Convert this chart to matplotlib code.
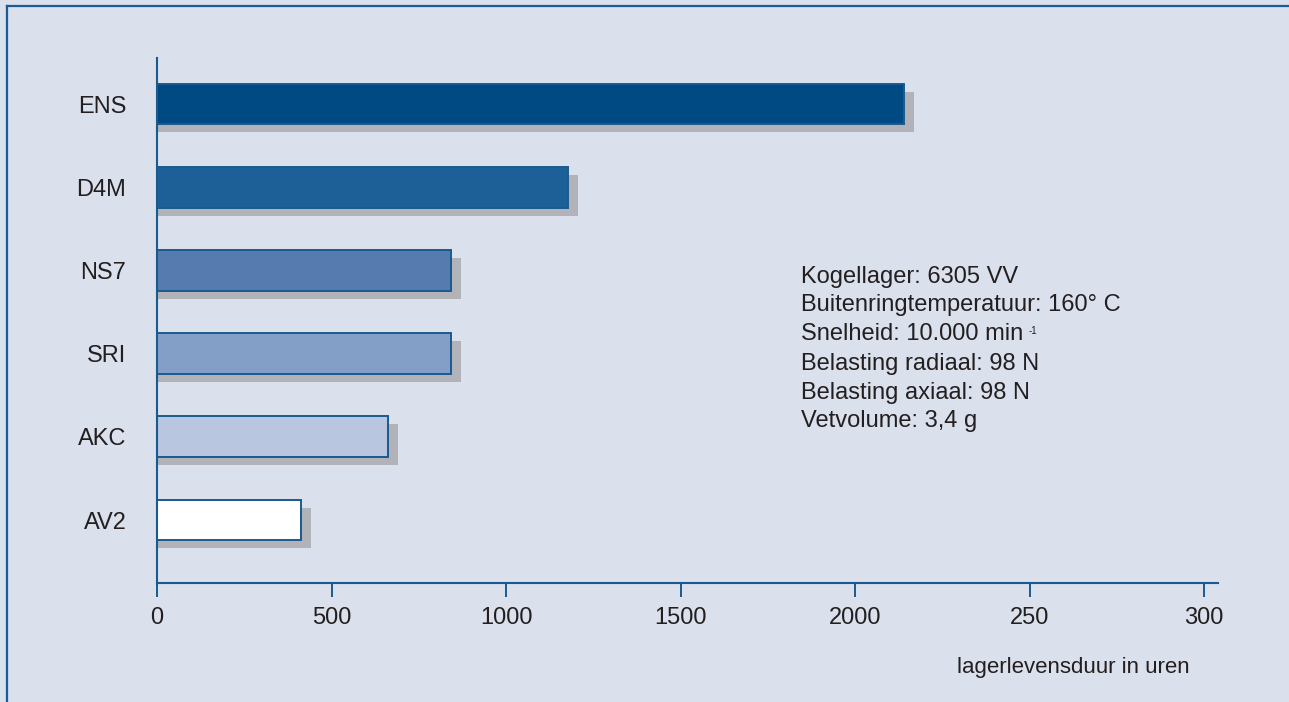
import matplotlib.pyplot as plt
from matplotlib.lines import Line2D

plt.rcParams['font.family'] = ['Liberation Sans', 'DejaVu Sans']

# lubricants, bottom to top
labels = ['AV2', 'AKC', 'SRI', 'NS7', 'D4M', 'ENS']
hours = [412, 661, 842, 842, 1177, 2141]
colors = ['#ffffff', '#b9c6df', '#849fc7', '#567baf', '#1c6097', '#004a84']

tick_pos = [0, 500, 1000, 1500, 2000, 2500, 3000]
tick_labels = ['0', '500', '1000', '1500', '2000', '250', '300']

info = ['Kogellager: 6305 VV',
        'Buitenringtemperatuur: 160° C',
        'Snelheid: 10.000 min',
        'Belasting radiaal: 98 N',
        'Belasting axiaal: 98 N',
        'Vetvolume: 3,4 g']

bg = '#dae0ec'
line_col = '#1a5a8e'
txt = '#231f20'
fs = 17

fig = plt.figure(figsize=(12.89, 7.02), dpi=100, facecolor=bg)
ax = fig.add_axes([157/1289, 1-583/702, (1218-157)/1289, (583-58)/702])
ax.set_facecolor(bg)

ypos = list(range(len(labels)))
h = 0.49
# grey drop shadow
ax.barh([y - 0.096 for y in ypos], [v + 29 for v in hours], height=h,
        color='#b1b3b8', linewidth=0, zorder=1)
ax.barh(ypos, hours, height=h, color=colors, edgecolor=line_col,
        linewidth=1.4, zorder=2)

ax.set_xlim(0, 3040)
ax.set_ylim(-0.757, 5.553)
ax.set_xticks(tick_pos)
ax.set_xticklabels(tick_labels, fontsize=fs, color=txt)
ax.set_yticks(ypos)
ax.set_yticklabels(labels, fontsize=fs, color=txt)
ax.tick_params(axis='x', direction='out', length=10, width=1.4, color=line_col, pad=7)
ax.tick_params(axis='y', length=0, pad=22)

for s in ['top', 'right']:
    ax.spines[s].set_visible(False)
for s in ['left', 'bottom']:
    ax.spines[s].set_color(line_col)
    ax.spines[s].set_linewidth(1.5)

fig.text(1190/1289, 1-668/702, 'lagerlevensduur in uren', fontsize=16,
         color=txt, ha='right', va='center')

line_y = [277, 305, 334, 364, 393, 421]
for t, y in zip(info, line_y):
    art = fig.text(801/1289, 1-y/702, t, fontsize=fs, color=txt, ha='left', va='center')
    if t.startswith('Snelheid'):
        ax.annotate('-1', xy=(1, 0.85), xycoords=art, xytext=(4, 0),
                    textcoords='offset points', fontsize=7, color=txt,
                    ha='left', va='top')

# frame lines at top and left
fig.add_artist(Line2D([7/1289, 1], [1-6/702, 1-6/702], color='#1a5a96', lw=1.6))
fig.add_artist(Line2D([7/1289, 7/1289], [0, 1-6/702], color='#1a5a96', lw=1.6))

fig.savefig('out.png', dpi=100, facecolor=bg)
